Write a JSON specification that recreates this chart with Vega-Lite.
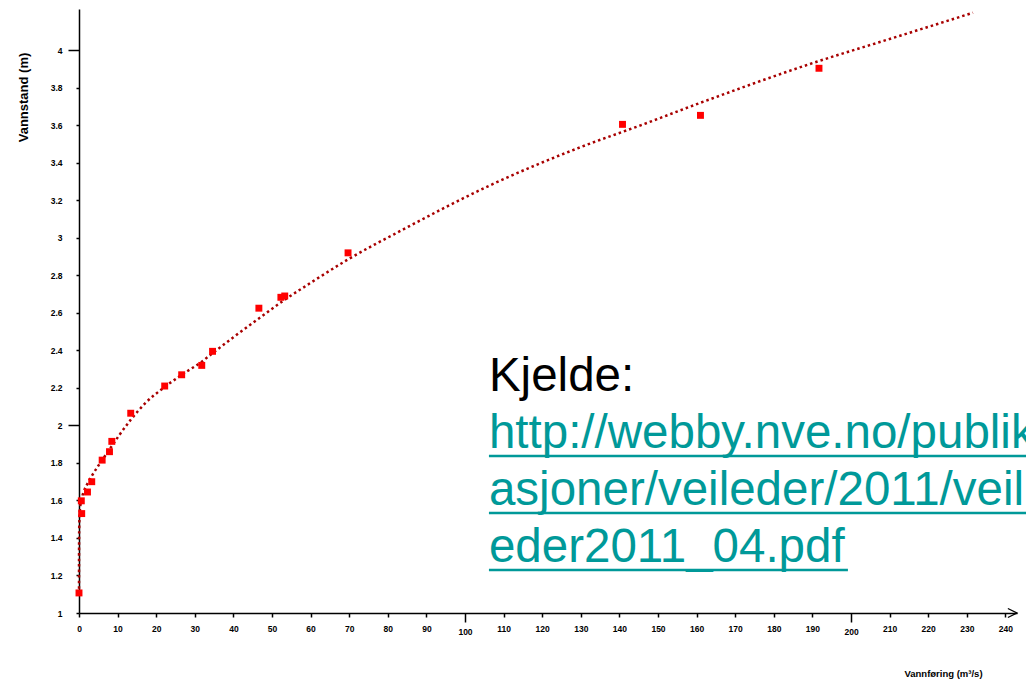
{
  "$schema": "https://vega.github.io/schema/vega-lite/v6.json",
  "width": 938,
  "height": 604,
  "autosize": {"type": "none"},
  "padding": {"left": 79, "top": 9, "right": 9, "bottom": 67},
  "background": "white",
  "config": {"view": {"stroke": null}, "font": "Liberation Sans"},
  "datasets": {
    "curve": [
      {"Q": 0, "h": 1.10}, {"Q": 0.01, "h": 1.30}, {"Q": 0.05, "h": 1.45}, {"Q": 0.2, "h": 1.54},
      {"Q": 0.6, "h": 1.60}, {"Q": 1.2, "h": 1.645}, {"Q": 2.2, "h": 1.69}, {"Q": 3.3, "h": 1.73},
      {"Q": 5, "h": 1.785}, {"Q": 6.5, "h": 1.83}, {"Q": 8.5, "h": 1.89}, {"Q": 10.5, "h": 1.95},
      {"Q": 13.4, "h": 2.03}, {"Q": 17, "h": 2.115}, {"Q": 22.2, "h": 2.205}, {"Q": 27, "h": 2.275},
      {"Q": 31.8, "h": 2.34}, {"Q": 34.6, "h": 2.385}, {"Q": 40, "h": 2.47}, {"Q": 46.6, "h": 2.57},
      {"Q": 52.6, "h": 2.66}, {"Q": 60, "h": 2.76}, {"Q": 69.7, "h": 2.885}, {"Q": 84, "h": 3.045},
      {"Q": 106.5, "h": 3.28}, {"Q": 130, "h": 3.484}, {"Q": 145.5, "h": 3.60}, {"Q": 161, "h": 3.72},
      {"Q": 191.3, "h": 3.94}, {"Q": 210, "h": 4.06}, {"Q": 231.6, "h": 4.20}
    ],
    "obs": [
      {"Q": 0, "h": 1.107}, {"Q": 0.7, "h": 1.53}, {"Q": 0.6, "h": 1.598}, {"Q": 2.2, "h": 1.645},
      {"Q": 3.3, "h": 1.70}, {"Q": 6, "h": 1.815}, {"Q": 7.9, "h": 1.86}, {"Q": 8.5, "h": 1.915},
      {"Q": 13.4, "h": 2.065}, {"Q": 22.2, "h": 2.21}, {"Q": 26.6, "h": 2.27}, {"Q": 31.8, "h": 2.32},
      {"Q": 34.6, "h": 2.395}, {"Q": 46.6, "h": 2.625}, {"Q": 52.3, "h": 2.683}, {"Q": 53.3, "h": 2.69},
      {"Q": 69.7, "h": 2.92}, {"Q": 140.8, "h": 3.605}, {"Q": 161.0, "h": 3.653}, {"Q": 191.7, "h": 3.904}
    ]
  },
  "layer": [
    {
      "data": {"name": "curve"},
      "mark": {"type": "line", "color": "#A80000", "strokeWidth": 2.5, "strokeDash": [2.5, 3], "interpolate": "monotone"},
      "encoding": {
        "x": {
          "field": "Q", "type": "quantitative",
          "scale": {"domain": [0, 243], "nice": false, "zero": false},
          "axis": {
            "title": "Vannføring (m³/s)", "titleX": 864, "titleY": 60, "titleAlign": "center", "titleBaseline": "middle",
            "titleFontSize": 9.5, "titleFontWeight": "bold", "titleColor": "black", "titleFont": "Liberation Sans",
            "values": [0, 10, 20, 30, 40, 50, 60, 70, 80, 90, 100, 110, 120, 130, 140, 150, 160, 170, 180, 190, 200, 210, 220, 230, 240],
            "tickCount": 100,
            "format": "d", "labelFlush": false, "labelOverlap": false, "labelFontSize": 8.5, "labelFontWeight": "bold",
            "labelColor": "black", "labelFont": "Liberation Sans",
            "tickSize": {"condition": {"test": "datum.value === 100 || datum.value === 200", "value": 9}, "value": 4},
            "labelPadding": {"condition": {"test": "datum.value === 100 || datum.value === 200", "value": 5}, "value": 7},
            "tickColor": "black", "tickWidth": 1.5, "domainColor": "black", "domainWidth": 1.5, "grid": false
          }
        },
        "y": {
          "field": "h", "type": "quantitative",
          "scale": {"domain": [1, 4.22], "nice": false, "zero": false},
          "axis": {
            "title": "Vannstand (m)", "titleAngle": -90, "titleX": -56, "titleY": 88, "titleAlign": "center", "titleBaseline": "middle",
            "titleFontSize": 13, "titleFontWeight": "bold", "titleColor": "black", "titleFont": "Liberation Sans",
            "values": [1, 1.2, 1.4, 1.6, 1.8, 2, 2.2, 2.4, 2.6, 2.8, 3, 3.2, 3.4, 3.6, 3.8, 4],
            "tickCount": 100,
            "format": "~g", "labelFlush": false, "labelOverlap": false, "labelFontSize": 8.5, "labelFontWeight": "bold",
            "labelColor": "black", "labelFont": "Liberation Sans",
            "tickSize": {"condition": {"test": "datum.value === 2 || datum.value === 4", "value": 11}, "value": 3},
            "labelPadding": {"condition": {"test": "datum.value === 2 || datum.value === 4", "value": 6}, "value": 14},
            "tickColor": "black", "tickWidth": 1.5, "domainColor": "black", "domainWidth": 1.5, "grid": false
          }
        }
      }
    },
    {
      "data": {"name": "obs"},
      "mark": {"type": "point", "shape": "square", "filled": true, "color": "#FF0000", "size": 48, "opacity": 1},
      "encoding": {
        "x": {"field": "Q", "type": "quantitative"},
        "y": {"field": "h", "type": "quantitative"}
      }
    },
    {
      "data": {"values": [{}]},
      "mark": {"type": "point", "shape": "M-1,-1L1,0L-1,1", "filled": false, "stroke": "black", "strokeWidth": 1.3, "size": 81, "opacity": 1},
      "encoding": {"x": {"datum": 241.8}, "y": {"datum": 1}}
    },
    {
      "data": {"values": [{}]},
      "mark": {"type": "text", "text": "Kjelde:", "align": "left", "baseline": "alphabetic", "fontSize": 47.5, "font": "Liberation Sans", "color": "black"},
      "encoding": {"x": {"datum": 106.2}, "y": {"datum": 2.1835}}
    },
    {
      "data": {"values": [{}]},
      "mark": {"type": "text", "text": ["http://webby.nve.no/publik", "asjoner/veileder/2011/veil", "eder2011_04.pdf"], "lineHeight": 57, "align": "left", "baseline": "alphabetic", "fontSize": 47.5, "font": "Liberation Sans", "color": "#009999"},
      "encoding": {"x": {"datum": 106.2}, "y": {"datum": 1.8796}}
    },
    {
      "data": {"values": [{}]},
      "mark": {"type": "rule", "color": "#009999", "strokeWidth": 2.7},
      "encoding": {"x": {"datum": 106.2}, "x2": {"datum": 250}, "y": {"datum": 1.837}}
    },
    {
      "data": {"values": [{}]},
      "mark": {"type": "rule", "color": "#009999", "strokeWidth": 2.7},
      "encoding": {"x": {"datum": 106.2}, "x2": {"datum": 250}, "y": {"datum": 1.5332}}
    },
    {
      "data": {"values": [{}]},
      "mark": {"type": "rule", "color": "#009999", "strokeWidth": 2.7},
      "encoding": {"x": {"datum": 106.2}, "x2": {"datum": 199.2}, "y": {"datum": 1.2293}}
    }
  ]
}
